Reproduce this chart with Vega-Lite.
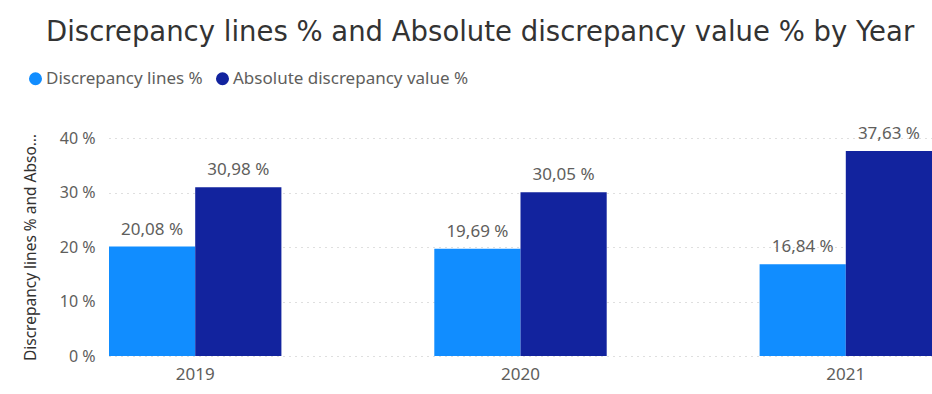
{
  "$schema": "https://vega.github.io/schema/vega-lite/v6.json",
  "autosize": {"type": "none"},
  "width": 823,
  "height": 218,
  "padding": {"left": 109, "top": 138, "right": 0, "bottom": 38},
  "background": "#ffffff",
  "title": {
    "text": "Discrepancy lines % and Absolute discrepancy value % by Year",
    "anchor": "start",
    "frame": "group",
    "dx": -63,
    "offset": 24,
    "fontSize": 27.5,
    "font": "DejaVu Sans",
    "fontWeight": "normal",
    "color": "#333333"
  },
  "data": {
    "values": [
      {"Year": "2019", "Measure": "Discrepancy lines %", "value": 20.08},
      {"Year": "2019", "Measure": "Absolute discrepancy value %", "value": 30.98},
      {"Year": "2020", "Measure": "Discrepancy lines %", "value": 19.69},
      {"Year": "2020", "Measure": "Absolute discrepancy value %", "value": 30.05},
      {"Year": "2021", "Measure": "Discrepancy lines %", "value": 16.84},
      {"Year": "2021", "Measure": "Absolute discrepancy value %", "value": 37.63}
    ]
  },
  "transform": [
    {"calculate": "replace(format(datum.value, '.2f'), '.', ',') + ' %'", "as": "label"}
  ],
  "encoding": {
    "x": {
      "field": "Year",
      "type": "nominal",
      "scale": {"paddingInner": 0.47, "paddingOuter": 0},
      "axis": {
        "title": null,
        "labelAngle": 0,
        "labelFontSize": 17,
        "labelColor": "#605E5C",
        "labelFont": "Noto Sans",
        "labelPadding": 10,
        "ticks": false,
        "domain": false
      }
    },
    "xOffset": {
      "field": "Measure",
      "type": "nominal",
      "sort": ["Discrepancy lines %", "Absolute discrepancy value %"],
      "scale": {"paddingInner": 0, "paddingOuter": 0}
    },
    "y": {
      "field": "value",
      "type": "quantitative",
      "scale": {"domain": [0, 40]},
      "axis": {
        "title": "Discrepancy lines % and Abso…",
        "titleFontSize": 15.5,
        "titleFont": "Noto Sans",
        "titleFontWeight": "normal",
        "titleColor": "#323130",
        "titlePadding": 21,
        "values": [0, 10, 20, 30, 40],
        "labelExpr": "datum.value + ' %'",
        "labelFontSize": 16,
        "labelFont": "Noto Sans",
        "labelColor": "#605E5C",
        "labelPadding": 14,
        "ticks": false,
        "domain": false,
        "grid": true,
        "gridColor": "#BEBEBE",
        "gridDash": [1, 5],
        "gridWidth": 1
      }
    }
  },
  "layer": [
    {
      "mark": {"type": "bar"},
      "encoding": {
        "color": {
          "field": "Measure",
          "type": "nominal",
          "sort": ["Discrepancy lines %", "Absolute discrepancy value %"],
          "scale": {
            "domain": ["Discrepancy lines %", "Absolute discrepancy value %"],
            "range": ["#118DFF", "#12239E"]
          },
          "legend": {
            "title": null,
            "orient": "none",
            "direction": "horizontal",
            "legendX": -82,
            "legendY": -68,
            "symbolType": "circle",
            "symbolSize": 170,
            "symbolStrokeWidth": 0,
            "labelFontSize": 17,
            "labelFont": "Noto Sans",
            "labelColor": "#605E5C",
            "labelLimit": 400,
            "labelOffset": 2,
            "columnPadding": 11
          }
        }
      }
    },
    {
      "mark": {
        "type": "text",
        "baseline": "bottom",
        "dy": -8,
        "fontSize": 17,
        "font": "Noto Sans",
        "color": "#605E5C"
      },
      "encoding": {
        "text": {"field": "label"}
      }
    }
  ],
  "config": {
    "view": {"stroke": null}
  }
}
